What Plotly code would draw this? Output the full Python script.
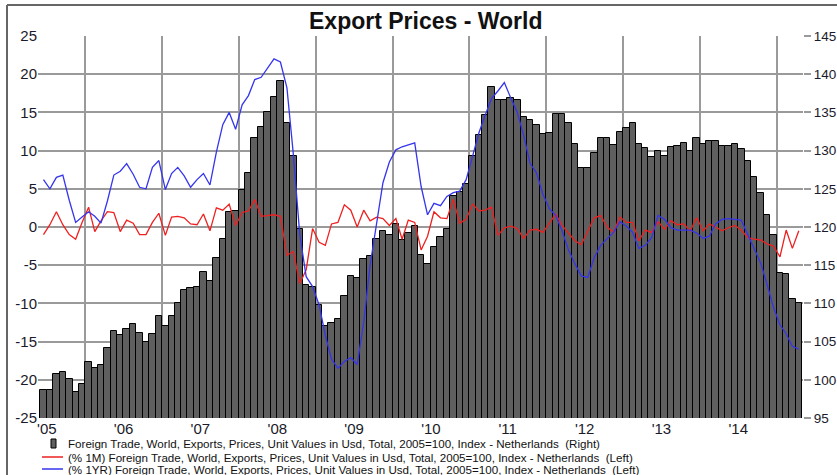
import pandas as pd
import plotly.graph_objects as go

# ---------------- data (monthly, Jun 2005 - Apr 2015) ----------------
START_MONTH = "2005-06-01"

# Index level, 2005=100 (right axis)
index_level = [
    98.7, 98.7, 100.7, 101.0, 100.1, 98.4, 99.4,                                  # 2005 Jun-Dec
    102.3, 101.5, 102.0, 104.2, 106.4, 105.8, 106.6, 107.3, 106.1, 105.0, 106.0, 108.4,  # 2006
    107.1, 108.4, 110.0, 111.7, 112.0, 112.1, 114.1, 112.9, 116.0, 118.4, 122.0, 122.1,  # 2007
    124.8, 127.1, 131.6, 133.1, 135.0, 137.0, 139.1, 133.6, 129.3, 119.7, 112.4, 112.2,  # 2008
    109.8, 107.1, 107.4, 107.9, 111.0, 113.6, 113.3, 115.8, 116.2, 118.4, 119.5, 119.0,  # 2009
    120.4, 118.3, 119.2, 120.1, 116.4, 115.1, 117.4, 118.7, 119.8, 124.0, 124.6, 125.6,  # 2010
    129.3, 132.0, 134.7, 138.3, 136.6, 136.6, 136.9, 136.6, 134.4, 134.0, 133.4, 132.2,  # 2011
    132.3, 134.8, 134.8, 133.6, 130.8, 127.7, 127.7, 129.7, 131.6, 131.6, 130.7, 132.4,  # 2012
    133.0, 133.6, 130.8, 130.3, 129.1, 129.9, 129.3, 130.5, 130.6, 131.0, 129.9, 131.7,  # 2013
    130.9, 131.3, 131.3, 130.6, 130.6, 130.8, 130.2, 128.6, 126.6, 124.5, 121.6, 118.9,  # 2014
    114.0, 113.8, 110.6, 110.0,                                                   # 2015 Jan-Apr
]

# % 1M change (left axis)
pct_1m = [
    -1.0, 0.3, 2.0, 0.3, -1.0, -1.6, 0.6,
    2.6, -0.6, 0.8, 2.0, 1.9, -0.6, 0.9, 0.5, -1.0, -1.0, 0.6, 1.8,
    -1.1, 1.3, 1.4, 1.2, 0.4, 0.3, 1.7, -0.5, 2.5, 2.2, 3.0, 0.2,
    1.9, 2.1, 3.6, 1.4, 1.5, 1.6, 1.4, -3.7, -3.2, -7.4, -5.6, -0.2,
    -2.0, -2.4, 0.4, 0.6, 2.9, 2.2, 0.0, 2.2, 0.8, 1.3, 1.1, 0.2,
    1.1, -1.6, 0.9, 0.6, -3.0, -1.2, 2.0, 1.2, 1.1, 3.6, 0.5, 1.0,
    3.0, 2.1, 2.2, 2.6, -1.1, -0.1, 0.1, -0.2, -1.5, -0.4, -0.3, -0.7,
    0.5, 1.7, 0.2, -0.8, -1.8, -2.3, -0.5, 1.2, 1.5, 0.0, -0.7, 1.3,
    0.6, 0.6, -1.8, -0.4, -0.7, 0.7, -0.3, 0.8, 0.3, 0.4, -0.5, 1.2,
    -0.5, 0.4, 0.0, -0.5, -0.1, 0.2, -0.4, -1.4, -1.6, -1.7, -2.2, -2.5,
    -3.9, -0.4, -2.8, -0.5,
]

# % 1YR change (left axis)
pct_1yr = [
    6.2, 5.0, 6.5, 6.8, 3.5, 0.6, 1.3,
    2.0, 1.4, 0.5, 3.4, 6.8, 7.3, 8.3, 6.9, 5.2, 5.0, 7.8, 8.7,
    4.9, 7.0, 7.8, 6.7, 5.2, 6.2, 7.0, 5.5, 9.8, 13.4, 15.0, 12.8,
    16.0, 17.2, 19.3, 19.6, 20.8, 22.0, 21.6, 18.2, 9.5, -1.0, -6.5, -7.8,
    -10.2, -14.2, -17.3, -18.5, -17.6, -17.1, -18.0, -12.5, -5.0, 0.5, 5.8, 8.5,
    10.1, 10.5, 10.7, 11.0, 5.3, 1.6, 3.1, 2.8, 4.0, 4.5, 4.7, 6.2,
    9.3, 12.3, 14.6, 16.8, 17.8, 18.9, 16.9, 15.0, 12.0, 8.3, 7.1, 4.3,
    2.4, 1.5, -0.5, -3.0, -4.8, -6.4, -6.6, -4.0, -2.4, -1.5, -0.7, 0.7,
    0.1, -0.7, -2.8, -2.4, -1.4, 1.5, 1.0, -0.1, -0.4, -0.4, -0.4, -0.8,
    -1.5, -1.2, 0.4, 1.0, 1.1, 1.0, 0.9, -1.0, -2.9, -4.7, -7.5, -10.5,
    -12.8, -14.0, -15.6, -16.0,
]

year_labels = ["'05", "'06", "'07", "'08", "'09", "'10", "'11", "'12", "'13", "'14"]
left_ticks = [-25, -20, -15, -10, -5, 0, 5, 10, 15, 20, 25]
left_tick_text = ["-25", "-20", "-15", "-10", "-5", "0", "5", "10", "15", "20", "25"]
right_ticks = [95, 100, 105, 110, 115, 120, 125, 130, 135, 140, 145]

title_text = "Export Prices - World"
name_bar = "Foreign Trade, World, Exports, Prices, Unit Values in Usd, Total, 2005=100, Index - Netherlands  (Right)"
name_1m = "(% 1M) Foreign Trade, World, Exports, Prices, Unit Values in Usd, Total, 2005=100, Index - Netherlands  (Left)"
name_1yr = "(% 1YR) Foreign Trade, World, Exports, Prices, Unit Values in Usd, Total, 2005=100, Index - Netherlands  (Left)"

# ---------------- derived positions ----------------
months = pd.date_range(START_MONTH, periods=len(index_level), freq="MS")
next_months = months + pd.offsets.MonthBegin(1)
mids = months + (next_months - months) / 2
widths_ms = [(b - a).total_seconds() * 1000.0 for a, b in zip(months, next_months)]
year_tick_pos = [pd.Timestamp(f"{int('20' + t[1:])}-07-02") for t in year_labels]

W, H = 837, 475
ML, MR, MT, MB = 38, 34, 36, 57
PW, PH = W - ML - MR, H - MT - MB

def px_x(x):
    return (x - ML) / PW

def px_y(y):
    return (H - MB - y) / PH

GRID = "#9a9a9a"
BAR_FILL = "#5f5f5f"
RED = "#ee2020"
BLUE = "#3535ee"
FONT = "Arial, Liberation Sans, sans-serif"

fig = go.Figure()

fig.add_trace(go.Bar(
    x=mids, y=index_level, width=widths_ms, name=name_bar,
    marker=dict(color=BAR_FILL, line=dict(color="#000000", width=1)),
    yaxis="y", showlegend=False,
))
fig.add_trace(go.Scatter(
    x=mids, y=pct_1m, mode="lines", name=name_1m,
    line=dict(color=RED, width=1.3), yaxis="y2", showlegend=False,
))
fig.add_trace(go.Scatter(
    x=mids, y=pct_1yr, mode="lines", name=name_1yr,
    line=dict(color=BLUE, width=1.3), yaxis="y2", showlegend=False,
))

annotations = [
    dict(text=f"<b>{title_text}</b>", x=px_x(425), y=px_y(21), xref="paper", yref="paper",
         xanchor="center", yanchor="middle", showarrow=False,
         font=dict(size=23, color="#111111", family=FONT)),
]
legend_rows = [(name_bar, 443), (name_1m, 457), (name_1yr, 469)]
for txt, yy in legend_rows:
    annotations.append(dict(text=txt, x=px_x(66), y=px_y(yy), xref="paper", yref="paper",
                            xanchor="left", yanchor="middle", showarrow=False,
                            font=dict(size=11.6, color="#111111", family=FONT)))

shapes = [
    # outer frame (top and left edges)
    dict(type="line", xref="paper", yref="paper", x0=px_x(7), x1=px_x(840), y0=px_y(5), y1=px_y(5),
         line=dict(color="#666666", width=2)),
    dict(type="line", xref="paper", yref="paper", x0=px_x(7), x1=px_x(7), y0=px_y(5), y1=px_y(480),
         line=dict(color="#666666", width=2)),
    # legend symbols
    dict(type="rect", xref="paper", yref="paper", x0=px_x(51), x1=px_x(56), y0=px_y(448), y1=px_y(439),
         fillcolor=BAR_FILL, line=dict(color="#000000", width=1)),
    dict(type="line", xref="paper", yref="paper", x0=px_x(42), x1=px_x(63), y0=px_y(457), y1=px_y(457),
         line=dict(color=RED, width=1.5)),
    dict(type="line", xref="paper", yref="paper", x0=px_x(42), x1=px_x(63), y0=px_y(469), y1=px_y(469),
         line=dict(color=BLUE, width=1.5)),
]

fig.update_layout(
    width=W, height=H,
    margin=dict(l=ML, r=MR, t=MT, b=MB, pad=0, autoexpand=False),
    paper_bgcolor="white", plot_bgcolor="white",
    bargap=0,
    font=dict(family=FONT, color="#222222"),
    xaxis=dict(
        type="date", range=["2005-05-21", "2015-05-06"], automargin=False,
        tickmode="array", tickvals=year_tick_pos, ticktext=year_labels,
        ticks="", showgrid=False, zeroline=False, showline=False,
        tickfont=dict(size=15, color="#1a1a2a"),
        minor=dict(dtick="M12", tick0="2006-01-01", showgrid=True, gridcolor=GRID, gridwidth=1.6, ticks=""),
    ),
    yaxis=dict(
        side="right", range=[95, 145], tickmode="array", tickvals=right_ticks, automargin=False,
        showgrid=True, gridcolor=GRID, gridwidth=1.6, zeroline=False, showline=False,
        ticks="outside", ticklen=7, tickcolor=GRID, tickwidth=1.6,
        tickfont=dict(size=13.5, color="#1a1a2a"),
    ),
    yaxis2=dict(
        side="left", overlaying="y", range=[-25, 25], tickmode="array", automargin=False,
        tickvals=left_ticks, ticktext=left_tick_text,
        showgrid=False, zeroline=False, showline=False, ticks="",
        tickfont=dict(size=15, color="#1a1a2a"),
    ),
    annotations=annotations,
    shapes=shapes,
)

fig.write_html(
    "out.html",
    config={"displayModeBar": False},
    post_script="document.body.style.margin='0';document.body.style.overflow='hidden';",
)
